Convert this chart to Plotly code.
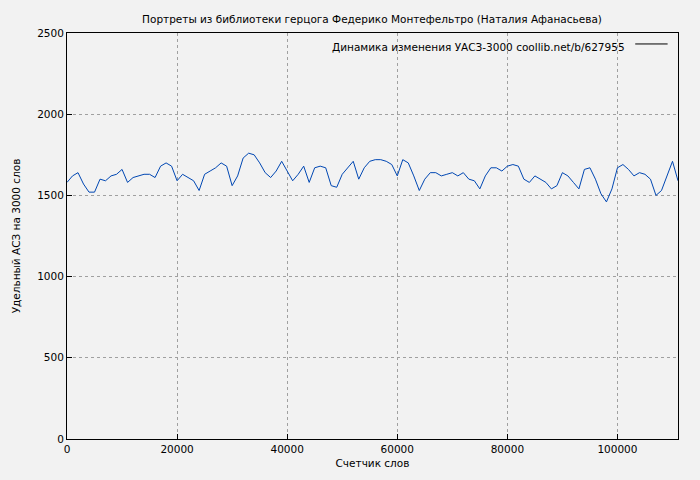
import plotly.graph_objects as go

# specific ACS per 3000 words, sampled every 1000 words
values = [1580, 1620, 1640, 1570, 1520, 1520, 1600, 1590, 1620, 1630, 1660, 1580, 1610, 1620,
          1630, 1630, 1610, 1680, 1700, 1680, 1590, 1630, 1610, 1590, 1530, 1630, 1650, 1670,
          1700, 1680, 1560, 1620, 1730, 1760, 1750, 1700, 1640, 1610, 1650, 1710, 1650, 1590,
          1630, 1680, 1580, 1670, 1680, 1670, 1560, 1550, 1630, 1670, 1710, 1600, 1670, 1710,
          1720, 1720, 1710, 1690, 1620, 1720, 1700, 1620, 1530, 1600, 1640, 1640, 1620, 1630,
          1640, 1620, 1640, 1600, 1590, 1540, 1620, 1670, 1670, 1650, 1680, 1690, 1680, 1600,
          1580, 1620, 1600, 1580, 1540, 1560, 1640, 1620, 1580, 1540, 1660, 1670, 1600, 1510,
          1460, 1540, 1670, 1690, 1660, 1620, 1640, 1630, 1600, 1500, 1530, 1620, 1710, 1590]
step = 111000 / (len(values) - 1)
words = [round(i * step) for i in range(len(values))]
legend_text = "Динамика изменения УАСЗ-3000 coollib.net/b/627955"

fig = go.Figure(go.Scatter(x=words, y=values, mode="lines", line=dict(color="#0047b3", width=1),
                           showlegend=False))

grid = dict(showgrid=True, gridcolor="#a0a0a0", griddash="dot", gridwidth=1, zeroline=False,
            showline=True, linecolor="black", linewidth=1, mirror=True, ticks="inside", ticklen=5,
            tickcolor="black", automargin=False, title_font=dict(size=10.5), tickfont=dict(size=10.5))
fig.update_xaxes(range=[0, 111000], dtick=20000, tickformat="d", title_text="Счетчик слов",
                 title_standoff=6, **grid)
fig.update_yaxes(range=[0, 2500], dtick=500, tickformat="d", title_text="Удельный АСЗ на 3000 слов",
                 title_standoff=14, **grid)

# legend in gnuplot style: text then a line sample to its right
fig.add_annotation(text=legend_text, xref="paper", yref="paper", x=0.917, y=0.985,
                   xanchor="right", yanchor="top", showarrow=False, font=dict(size=10.5))
fig.add_shape(type="line", xref="paper", yref="paper", x0=0.93, x1=0.983, y0=0.973, y1=0.973,
              line=dict(color="black", width=1))

fig.update_layout(
    width=700, height=480,
    title=dict(text="Портреты из библиотеки герцога Федерико Монтефельтро (Наталия Афанасьева)",
               x=0.52, xanchor="center", y=0.985, font=dict(size=10.5)),
    font=dict(family="DejaVu Sans", size=10.5, color="black"),
    paper_bgcolor="#f2f2f2", plot_bgcolor="#f2f2f2",
    margin=dict(l=59, r=30, t=25, b=49, autoexpand=False),
)

# page background matches the paper so the body margin does not show as a white strip
fig.write_html("out.html", post_script="document.body.style.background='#f2f2f2';")
